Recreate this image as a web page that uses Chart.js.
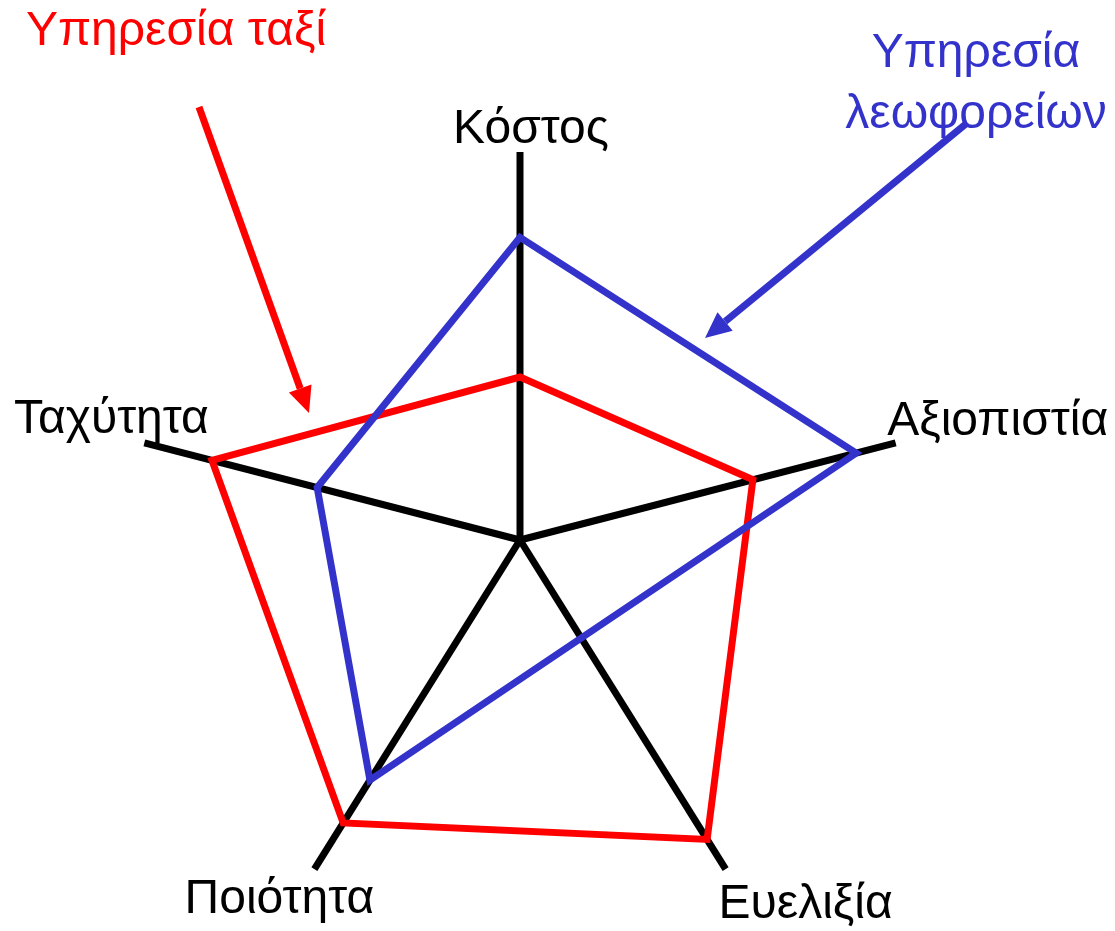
<!DOCTYPE html>
<html>
<head>
<meta charset="utf-8">
<title>Ταξί / Λεωφορεία</title>
<script src="https://cdn.jsdelivr.net/npm/chart.js@4"></script>
<style>
  html, body { margin: 0; padding: 0; background: #fff; }
  #wrap { position: relative; width: 1115px; height: 931px; }
</style>
</head>
<body>
<div id="wrap"><canvas id="radar"></canvas></div>
<script>
// ====== DATA ======
const categories = ['Κόστος', 'Αξιοπιστία', 'Ευελιξία', 'Ποιότητα', 'Ταχύτητα'];
const taxiValues = [4.2, 6.2, 9.1, 8.6, 8.2];
const busValues = [7.8, 8.95, null, 7.3, 5.4];   // no Ευελιξία point for the bus
const scaleMin = 0;
const scaleMax = 10;

// ====== LAYOUT ======
// axes are not spread evenly in the original, so angles (deg, clockwise from top) are set by hand
const AXIS_ANGLES = [0, 75.5, 148, 212, 284.5];
// label anchor = end of axis + offset
const LABEL_OFFSETS = [[11, -9], [102, -8], [80, 49], [-35, 44], [-33, -10]];
const FONT = '"Liberation Sans", Arial, sans-serif';

const skewAxes = {
  id: 'skewAxes',
  beforeUpdate(chart) {
    const r = chart.scales.r;
    if (r && !r._skewed) {
      r.getIndexAngle = i => AXIS_ANGLES[i] * Math.PI / 180;
      r._skewed = true;
    }
  }
};

function arrow(ctx, x0, y0, x1, y1, color) {
  const ang = Math.atan2(y1 - y0, x1 - x0);
  const len = 26, half = 12;
  const bx = x1 - len * Math.cos(ang), by = y1 - len * Math.sin(ang);
  ctx.strokeStyle = color;
  ctx.fillStyle = color;
  ctx.lineWidth = 7;
  ctx.beginPath();
  ctx.moveTo(x0, y0);
  ctx.lineTo(bx, by);
  ctx.stroke();
  ctx.beginPath();
  ctx.moveTo(x1, y1);
  ctx.lineTo(bx + half * Math.sin(ang), by - half * Math.cos(ang));
  ctx.lineTo(bx - half * Math.sin(ang), by + half * Math.cos(ang));
  ctx.closePath();
  ctx.fill();
}

const labelsAndNotes = {
  id: 'labelsAndNotes',
  afterDraw(chart) {
    const ctx = chart.ctx;
    const r = chart.scales.r;
    ctx.save();
    ctx.textAlign = 'center';
    ctx.textBaseline = 'alphabetic';
    ctx.font = '48px ' + FONT;
    ctx.fillStyle = '#000';
    categories.forEach((name, i) => {
      const p = r.getPointPosition(i, r.drawingArea);
      ctx.fillText(name, p.x + LABEL_OFFSETS[i][0], p.y + LABEL_OFFSETS[i][1]);
    });

    // series notes
    ctx.font = '48px ' + FONT;
    ctx.fillStyle = '#ff0000';
    ctx.fillText('Υπηρεσία ταξί', 176, 45);
    ctx.fillStyle = '#3333cc';
    ctx.fillText('Υπηρεσία', 976, 67);
    ctx.fillText('λεωφορείων', 976, 128);

    arrow(ctx, 199, 107, 309, 413, '#ff0000');
    arrow(ctx, 967, 123, 705, 338, '#3333cc');
    ctx.restore();
  }
};

new Chart(document.getElementById('radar'), {
  type: 'radar',
  data: {
    labels: categories,
    datasets: [
      {
        label: 'Υπηρεσία λεωφορείων',
        data: busValues,
        borderColor: '#3333cc',
        borderWidth: 7,
        fill: false,
        spanGaps: true,
        tension: 0,
        borderJoinStyle: 'miter',
        pointRadius: 0,
        pointHoverRadius: 0
      },
      {
        label: 'Υπηρεσία ταξί',
        data: taxiValues,
        borderColor: '#ff0000',
        borderWidth: 7,
        fill: false,
        tension: 0,
        borderJoinStyle: 'miter',
        pointRadius: 0,
        pointHoverRadius: 0
      }
    ]
  },
  options: {
    responsive: true,
    maintainAspectRatio: false,
    animation: false,
    layout: { padding: { left: 132, right: 207, top: 152, bottom: 3 } },
    plugins: {
      legend: { display: false },
      tooltip: { enabled: false }
    },
    scales: {
      r: {
        min: scaleMin,
        max: scaleMax,
        grid: { display: false },
        ticks: { display: false },
        pointLabels: { display: false },
        angleLines: { display: true, color: '#000', lineWidth: 7 }
      }
    }
  },
  plugins: [skewAxes, labelsAndNotes]
});
</script>
</body>
</html>
